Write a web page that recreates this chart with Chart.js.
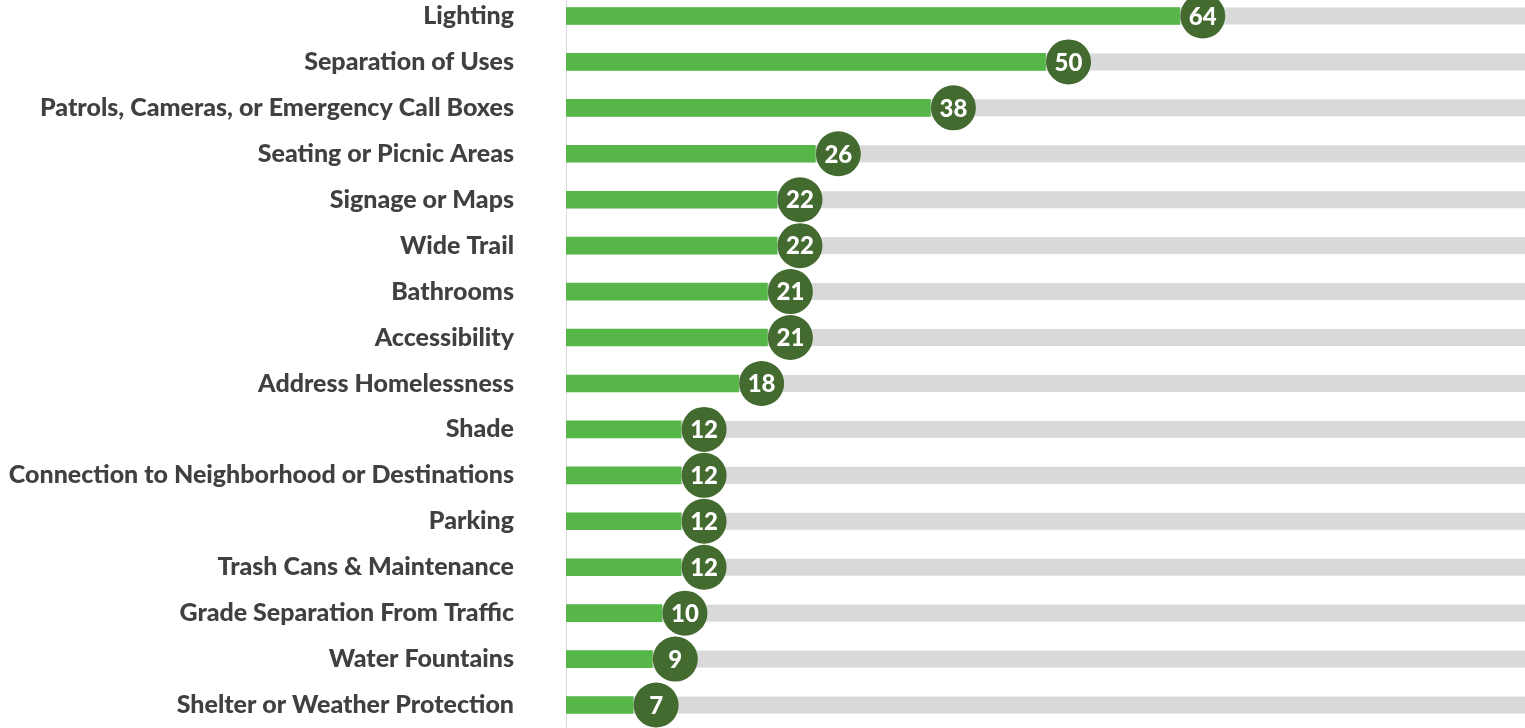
<!DOCTYPE html>
<html><head><meta charset="utf-8">
<script src="https://cdn.jsdelivr.net/npm/chart.js@4.4.1/dist/chart.umd.min.js"></script>
<style>
html,body{margin:0;padding:0;background:#fff;overflow:hidden;width:1525px;height:728px;}
#wrap{position:absolute;left:0;top:-7px;width:1525px;height:735px;}
</style></head><body>
<div id="wrap"><canvas id="c"></canvas></div>
<script>
const categories = ["Lighting","Separation of Uses","Patrols, Cameras, or Emergency Call Boxes","Seating or Picnic Areas","Signage or Maps","Wide Trail","Bathrooms","Accessibility","Address Homelessness","Shade","Connection to Neighborhood or Destinations","Parking","Trash Cans & Maintenance","Grade Separation From Traffic","Water Fountains","Shelter or Weather Protection"];
const counts = [64,50,38,26,22,22,21,21,18,12,12,12,12,10,9,7];
const axisMax = 100;

const FONT = "Lato, 'Noto Sans', sans-serif";

const decor = {
  id:'decor',
  beforeDatasetsDraw(chart){
    const ctx = chart.ctx, area = chart.chartArea;
    const meta = chart.getDatasetMeta(0);
    ctx.save();
    ctx.fillStyle = '#d9d9d9';
    meta.data.forEach(b=>{
      const h = b.height;
      ctx.fillRect(b.base, b.y - h/2, area.right - b.base, h);
    });
    ctx.restore();
  },
  afterDatasetsDraw(chart){
    const ctx = chart.ctx;
    const meta = chart.getDatasetMeta(0);
    ctx.save();
    meta.data.forEach((b,i)=>{
      const cx = b.x + 23, cy = b.y;
      ctx.beginPath();
      ctx.arc(cx, cy, 22.5, 0, Math.PI*2);
      ctx.fillStyle = '#436a2f';
      ctx.fill();
      ctx.fillStyle = '#ffffff';
      ctx.font = "900 24px " + FONT;
      ctx.textAlign = 'center';
      ctx.textBaseline = 'middle';
      ctx.fillText(String(counts[i]), cx, cy + 1);
    });
    ctx.restore();
  }
};

new Chart(document.getElementById('c'), {
  type:'bar',
  data:{labels:categories, datasets:[{data:counts, backgroundColor:'#56b748', barThickness:17, borderWidth:0}]},
  options:{
    indexAxis:'y', responsive:true, maintainAspectRatio:false, animation:false,
    layout:{padding:0},
    plugins:{legend:{display:false}, tooltip:{enabled:false}},
    scales:{
      x:{display:false, min:0, max:axisMax},
      y:{
        grid:{display:false, drawTicks:false},
        border:{display:true, color:'#d9d9d9', width:1},
        ticks:{color:'#404040', padding:52, font:{family:FONT, size:25, weight:'900'}},
        afterFit(s){ s.width = 566; s.paddingTop = 0; s.paddingBottom = 0; }
      }
    }
  },
  plugins:[decor]
});
</script></body></html>
